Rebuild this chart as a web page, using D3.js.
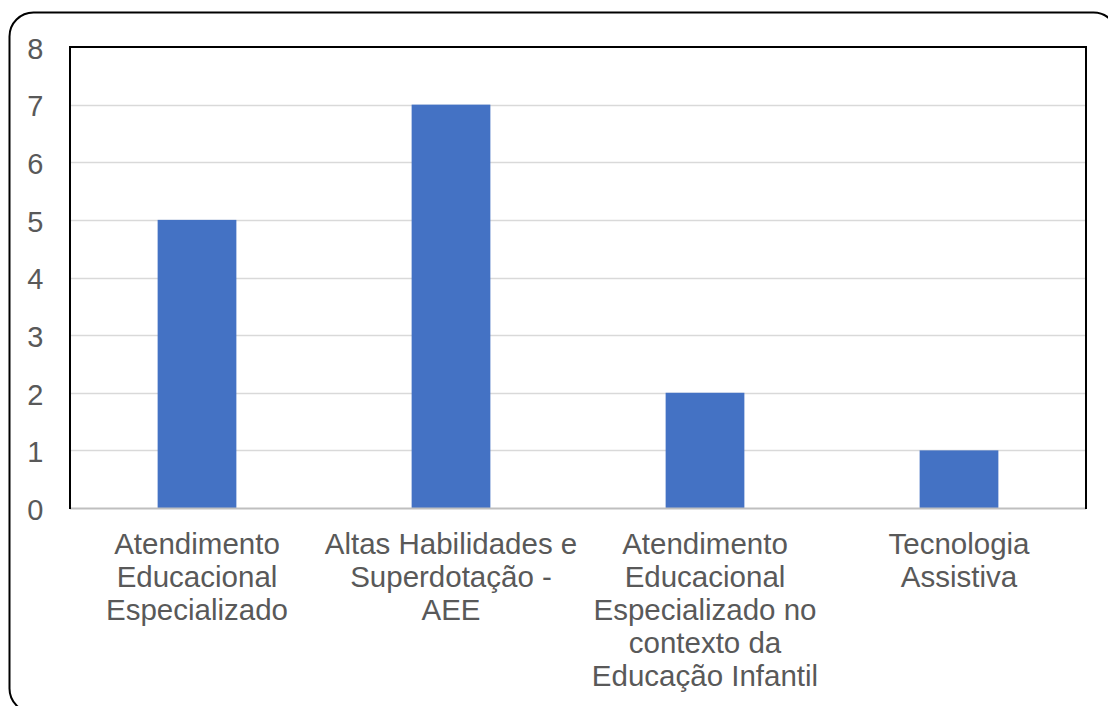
<!DOCTYPE html>
<html>
<head>
<meta charset="utf-8">
<script src="https://cdn.jsdelivr.net/npm/d3@7"></script>
<style>
  html, body { margin: 0; padding: 0; background: #fff; }
  svg { display: block; }
</style>
</head>
<body>
<svg id="chart" width="1108" height="706"></svg>
<script>
// Course categories (line breaks mark the wrapped label lines)
const categories = [
  "Atendimento\nEducacional\nEspecializado",
  "Altas Habilidades e\nSuperdotação -\nAEE",
  "Atendimento\nEducacional\nEspecializado no\ncontexto da\nEducação Infantil",
  "Tecnologia\nAssistiva"
];
const values = [5, 7, 2, 1];
const yTicks = [0, 1, 2, 3, 4, 5, 6, 7, 8];

const W = 1108, H = 706;
const plot = { left: 70, top: 47, right: 1086, bottom: 508 };
const font = "'Liberation Sans', Arial, sans-serif";
const textColor = "#595959";

const svg = d3.select("#chart");

// Outer rounded frame
svg.append("rect")
  .attr("x", 9.5).attr("y", 12.5)
  .attr("width", 1108).attr("height", 700)
  .attr("rx", 24).attr("ry", 24)
  .attr("fill", "#fff")
  .attr("stroke", "#000").attr("stroke-width", 2);

const x = d3.scaleBand()
  .domain(categories)
  .range([plot.left, plot.right])
  .paddingInner(0.69).paddingOuter(0.345);

const y = d3.scaleLinear()
  .domain([0, 8])
  .range([plot.bottom, plot.top]);

// Horizontal gridlines
svg.append("g")
  .selectAll("line")
  .data(yTicks.filter(d => d > 0 && d < 8))
  .join("line")
  .attr("x1", plot.left).attr("x2", plot.right)
  .attr("y1", d => Math.round(y(d)) + 0.5)
  .attr("y2", d => Math.round(y(d)) + 0.5)
  .attr("stroke", "#d9d9d9").attr("stroke-width", 1.5);

// Bars
svg.append("g")
  .selectAll("rect")
  .data(values)
  .join("rect")
  .attr("x", (d, i) => x(categories[i]))
  .attr("width", x.bandwidth())
  .attr("y", d => y(d))
  .attr("height", d => y(0) - y(d))
  .attr("fill", "#4472c4");

// Category axis baseline
svg.append("line")
  .attr("x1", plot.left).attr("x2", plot.right)
  .attr("y1", plot.bottom + 0.5).attr("y2", plot.bottom + 0.5)
  .attr("stroke", "#bfbfbf").attr("stroke-width", 2);

// Plot area border (left, top, right)
svg.append("path")
  .attr("d", `M${plot.left},${plot.bottom + 1}V${plot.top}H${plot.right}V${plot.bottom + 1}`)
  .attr("fill", "none")
  .attr("stroke", "#000").attr("stroke-width", 2);

// Y axis tick labels
const yAxis = d3.axisLeft(y).tickValues(yTicks).tickSize(0).tickPadding(26);
const gy = svg.append("g")
  .attr("transform", `translate(${plot.left},2)`)
  .call(yAxis);
gy.select(".domain").remove();
gy.selectAll("text")
  .attr("font-family", font)
  .attr("font-size", 29)
  .attr("fill", textColor)
  .attr("text-anchor", "middle")
  .attr("dx", "-0.3em");

// Category labels, wrapped on line breaks
const lineGap = 33;
const labels = svg.append("g")
  .selectAll("text")
  .data(categories)
  .join("text")
  .attr("x", d => x(d) + x.bandwidth() / 2)
  .attr("y", 554)
  .attr("text-anchor", "middle")
  .attr("font-family", font)
  .attr("font-size", 29.5)
  .attr("fill", textColor);
labels.each(function(d) {
  const t = d3.select(this);
  d.split("\n").forEach((line, i) => {
    t.append("tspan")
      .attr("x", x(d) + x.bandwidth() / 2)
      .attr("y", 554 + i * lineGap)
      .text(line);
  });
});
</script>
</body>
</html>
